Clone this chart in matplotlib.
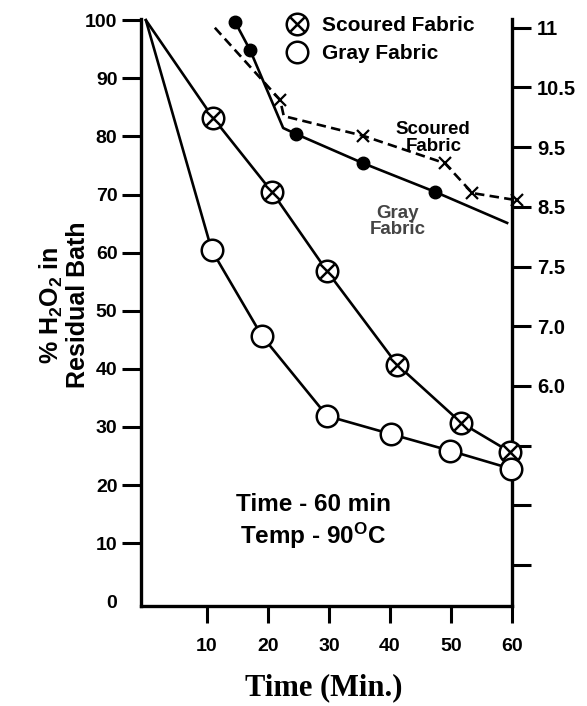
import numpy as np
import matplotlib
matplotlib.use("Agg")
import matplotlib.pyplot as plt
from matplotlib.lines import Line2D

plt.rcParams["font.family"] = "Liberation Sans"
plt.rcParams["font.weight"] = "bold"
plt.rcParams["axes.labelweight"] = "bold"
plt.rcParams["mathtext.fontset"] = "custom"
plt.rcParams["mathtext.rm"] = "Liberation Sans:bold"
plt.rcParams["mathtext.it"] = "Liberation Sans:bold"
plt.rcParams["mathtext.bf"] = "Liberation Sans:bold"

# % H2O2 left in the bath (left axis)
scoured_t = [0, 11.0, 20.7, 29.7, 41.2, 51.7, 59.7]
scoured_pct = [100, 83.2, 70.4, 56.8, 40.7, 30.7, 25.7]
gray_t = [0, 10.8, 19.0, 29.7, 40.1, 49.9, 59.9]
gray_pct = [100, 60.4, 45.7, 31.9, 28.8, 25.9, 22.8]

# bath pH (right axis)
gray_ph_t = [14.6, 17.1, 22.5, 24.6, 35.6, 47.4, 59.2]
gray_ph = [11.05, 10.81, 9.82, 9.72, 9.23, 8.75, 8.23]
scoured_ph_t = [11.3, 22.0, 22.6, 35.6, 49.0, 53.5, 60.8]
scoured_ph = [11.0, 10.29, 10.02, 9.69, 9.23, 8.73, 8.61]

x_ticks = [10, 20, 30, 40, 50, 60]
y_ticks = [0, 10, 20, 30, 40, 50, 60, 70, 80, 90, 100]
ph_ticks = [11, 10.5, 9.5, 8.5, 7.5, 7.0, 6.0]
ph_labels = ["11", "10.5", "9.5", "8.5", "7.5", "7.0", "6.0"]
ph_minor = [5.0, 4.0, 3.0]

# the pH axis is drawn with evenly spaced ticks, so map pH -> tick slot
ph_knots = [2.0, 6.0, 7.0, 7.5, 8.5, 9.5, 10.5, 11.0, 11.5]
slot_knots = [-1, 3, 4, 5, 6, 7, 8, 9, 10]


def ph_fwd(v):
    return np.interp(v, ph_knots, slot_knots)


def ph_inv(v):
    return np.interp(v, slot_knots, ph_knots)


W, H = 587, 706
fig = plt.figure(figsize=(W / 100, H / 100), dpi=100)
ax = fig.add_axes([141 / W, 1 - 606 / H, (512 - 141) / W, (606 - 19) / H])
ax2 = ax.twinx()
ax.set_zorder(ax2.get_zorder() + 1)
ax.patch.set_visible(False)

lw = 1.9
ax.plot(scoured_t, scoured_pct, color="black", lw=lw, marker="o", ms=15.5,
        mfc="white", mec="black", mew=1.8, markevery=list(range(1, 7)),
        clip_on=False, zorder=5)
ax.plot(scoured_t[1:], scoured_pct[1:], ls="none", marker="x", ms=10.5,
        mec="black", mew=1.8, clip_on=False, zorder=6)
ax.plot(gray_t, gray_pct, color="black", lw=lw, marker="o", ms=15.5,
        mfc="white", mec="black", mew=1.8, markevery=list(range(1, 7)),
        clip_on=False, zorder=5)

ax.set_xlim(-0.8, 60)
ax.set_ylim(-0.8, 100.2)
ax.set_xticks(x_ticks)
ax.set_yticks(y_ticks)
ax.tick_params(axis="x", direction="out", length=12, width=2.2, pad=11, labelsize=14)
ax.tick_params(axis="y", direction="out", length=14, width=2.2, pad=3, labelsize=14)
ax.yaxis.get_major_ticks()[0].tick1line.set_visible(False)
for s in ["top", "right"]:
    ax.spines[s].set_visible(False)
for s in ["left", "bottom"]:
    ax.spines[s].set_linewidth(2.4)

ax2.set_yscale("function", functions=(ph_fwd, ph_inv))
ax2.set_ylim(2.313, 11.073)
ax2.plot(gray_ph_t, gray_ph, color="black", lw=lw, marker="o", ms=9,
         markevery=[0, 1, 3, 4, 5], clip_on=False)
ax2.plot(scoured_ph_t, scoured_ph, color="black", lw=lw, ls=(0, (3.6, 2)),
         marker="x", ms=8, mew=1.6, markevery=[1, 3, 4, 5, 6], clip_on=False)
ax2.set_yticks(ph_ticks)
ax2.set_yticklabels(ph_labels)
ax2.set_yticks(ph_minor, minor=True)
ax2.tick_params(axis="y", which="both", direction="out", length=14, width=2.2,
                pad=4, labelsize=14.5)
for s in ["top", "left", "bottom"]:
    ax2.spines[s].set_visible(False)
ax2.spines["right"].set_linewidth(2.4)

ax.set_xlabel("Time (Min.)", fontfamily="Liberation Serif", fontsize=22,
              fontweight="bold", va="center")
ax.xaxis.set_label_coords((324 - 141) / 371, (606 - 688) / 587)
ax.set_ylabel("% H$_{\\rm 2}$O$_{\\rm 2}$ in\nResidual Bath", fontsize=18,
              fontweight="bold", va="center", linespacing=1.05)
ax.yaxis.set_label_coords((64 - 141) / 371, (606 - 305) / 587)

ax.text(47.1, 79.7, "Scoured\nFabric", ha="center", va="center",
        fontsize=13.5, linespacing=0.95)
ax.text(41.2, 65.4, "Gray\nFabric", ha="center", va="center",
        fontsize=13.5, linespacing=0.95, color="#444444")
ax.text(27.4, 13.7, "Time - 60 min\nTemp - 90$^{\\rm O}$C", ha="center",
        va="center", fontsize=17.5, linespacing=1.2)

circ = Line2D([], [], ls="none", marker="o", ms=15.5, mfc="white",
              mec="black", mew=1.8)
cross = Line2D([], [], ls="none", marker="x", ms=10.5, mec="black", mew=1.8)
circ2 = Line2D([], [], ls="none", marker="o", ms=15.5, mfc="white",
               mec="black", mew=1.8)
ax.legend([(circ, cross), circ2], ["Scoured Fabric", "Gray Fabric"],
          loc="upper left", bbox_to_anchor=(287 / W, 1 - 16 / H),
          bbox_transform=fig.transFigure, frameon=False, borderpad=0,
          borderaxespad=0, handlelength=1.0, handletextpad=0.7,
          labelspacing=0.45, prop={"size": 15, "weight": "bold"})

fig.savefig("out.png", dpi=100)
